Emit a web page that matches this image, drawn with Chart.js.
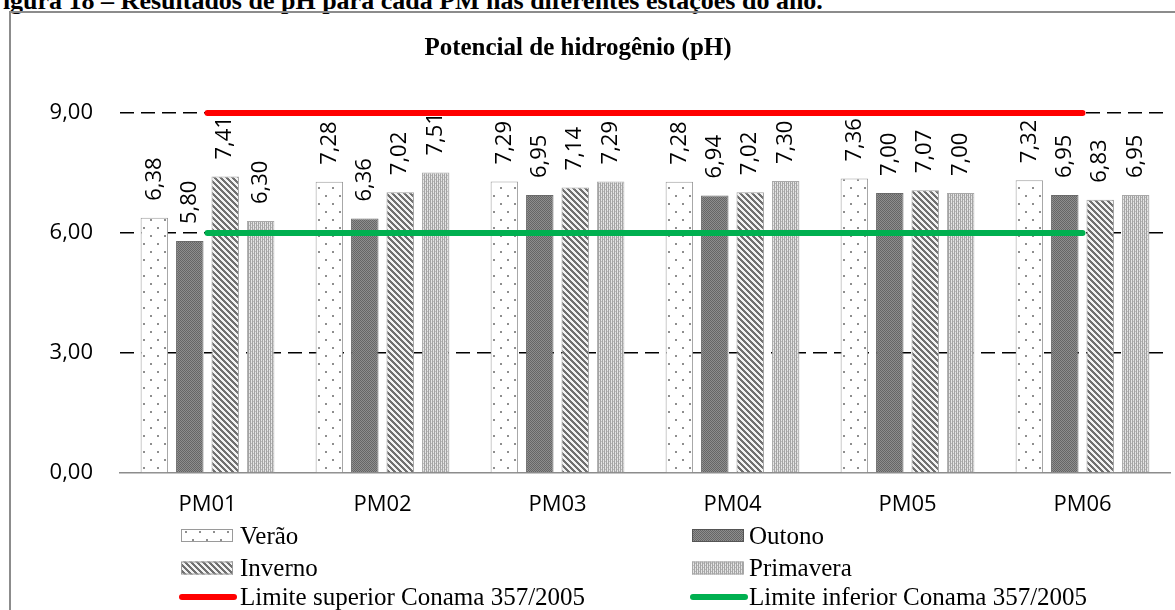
<!DOCTYPE html>
<html>
<head>
<meta charset="utf-8">
<script src="https://cdn.jsdelivr.net/npm/chart.js@4.4.0/dist/chart.umd.min.js"></script>
<style>
  html, body { margin: 0; padding: 0; background: #fff; overflow: hidden; }
  #caption {
    position: absolute; left: -13px; top: -12px;
    font: bold 26px "Liberation Serif", "Times New Roman", serif;
    line-height: 25px; white-space: nowrap; color: #000;
  }
  #frame {
    position: absolute; left: 9px; top: 11px; width: 1300px; height: 700px;
    border: 2px solid #8c8c8c; box-sizing: border-box;
  }
  #wrap { position: absolute; left: 0; top: 0; width: 1175px; height: 610px; }
</style>
</head>
<body>
<div id="caption">Figura 18 – Resultados de pH para cada PM nas diferentes estações do ano.</div>
<div id="frame"></div>
<div id="wrap"><canvas id="phChart" width="1175" height="610"></canvas></div>

<script>
// data
const pontos = ["PM01", "PM02", "PM03", "PM04", "PM05", "PM06"]
const verao = [6.38, 7.28, 7.29, 7.28, 7.36, 7.32]
const outono = [5.80, 6.36, 6.95, 6.94, 7.00, 6.95]
const inverno = [7.41, 7.02, 7.14, 7.02, 7.07, 6.83]
const primavera = [6.30, 7.51, 7.29, 7.30, 7.00, 6.95]
const limiteSuperior = [9, 9, 9, 9, 9, 9]
const limiteInferior = [6, 6, 6, 6, 6, 6]
const yTicks = [0, 3, 6, 9]

const titulo = "Potencial de hidrogênio (pH)"
const SANS = "'Open Sans', sans-serif"
const SERIF = "'Liberation Serif', 'Times New Roman', serif"

function fmt(v) {
  return v.toFixed(2).replace(".", ",")
}

// small tile -> repeating fill pattern
function makePattern(w, h, paint) {
  const c = document.createElement("canvas")
  c.width = w
  c.height = h
  const g = c.getContext("2d")
  paint(g, w, h)
  return g.createPattern(c, "repeat")
}

const patVerao = makePattern(14, 16, function (g, w, h) {
  g.fillStyle = "#ffffff"
  g.fillRect(0, 0, w, h)
  g.fillStyle = "#8e8e8e"
  g.fillRect(3, 3, 2, 2)
  g.fillRect(10, 11, 2, 2)
})

const patOutono = makePattern(2, 2, function (g) {
  g.fillStyle = "#8e8e8e"
  g.fillRect(0, 0, 2, 2)
  g.fillStyle = "#666666"
  g.fillRect(0, 0, 1, 1)
  g.fillRect(1, 1, 1, 1)
})

const patInverno = makePattern(6, 6, function (g) {
  for (let x = 0; x < 6; x++) {
    for (let y = 0; y < 6; y++) {
      g.fillStyle = ((x - y + 12) % 6) < 3 ? "#707070" : "#f2f2f2"
      g.fillRect(x, y, 1, 1)
    }
  }
})

const patPrimavera = makePattern(4, 4, function (g) {
  g.fillStyle = "#e4e4e4"
  g.fillRect(0, 0, 4, 4)
  g.fillStyle = "#a4a4a4"
  g.fillRect(0, 0, 1, 4)
  g.fillRect(2, 0, 1, 4)
  g.fillStyle = "#bcbcbc"
  g.fillRect(1, 1, 1, 1)
  g.fillRect(3, 3, 1, 1)
})

// value labels, rotated, above each bar
const barLabels = {
  id: "barLabels",
  afterDatasetsDraw(chart) {
    const ctx = chart.ctx
    ctx.save()
    ctx.font = "22px " + SANS
    ctx.fillStyle = "#000"
    ctx.textAlign = "left"
    ctx.textBaseline = "middle"
    chart.data.datasets.forEach(function (ds, i) {
      if (ds.type === "line") return
      chart.getDatasetMeta(i).data.forEach(function (bar, j) {
        ctx.save()
        ctx.translate(bar.x, bar.y - 17)
        ctx.rotate(-Math.PI / 2)
        ctx.fillText(fmt(ds.data[j]), 0, 0)
        ctx.restore()
      })
    })
    ctx.restore()
  },
}

// title + two column legend like the Excel original
const titleAndLegend = {
  id: "titleAndLegend",
  afterDraw(chart) {
    const ctx = chart.ctx
    ctx.save()
    ctx.fillStyle = "#000"
    ctx.font = "bold 25px " + SERIF
    ctx.textAlign = "center"
    ctx.textBaseline = "alphabetic"
    ctx.fillText(titulo, 578, 55)

    const swatchX = [181, 692]
    const textX = [240, 749]
    const rowY = [535.5, 568, 597]
    ctx.font = "25px " + SERIF
    ctx.textAlign = "left"
    chart.data.datasets.forEach(function (ds, i) {
      const col = i % 2
      const row = Math.floor(i / 2)
      const x = swatchX[col]
      const y = rowY[row]
      if (ds.type === "line") {
        ctx.strokeStyle = ds.borderColor
        ctx.lineWidth = 6
        ctx.lineCap = "round"
        ctx.beginPath()
        ctx.moveTo(x + 1, y)
        ctx.lineTo(x + 53, y)
        ctx.stroke()
      } else {
        ctx.fillStyle = ds.backgroundColor
        ctx.fillRect(x, y - 6.5, 52, 13)
        ctx.strokeStyle = ds.legendBorder
        ctx.lineWidth = 1
        ctx.strokeRect(x + 0.5, y - 6, 51, 12)
      }
      ctx.fillStyle = "#000"
      ctx.fillText(ds.label, textX[col], y + 8)
    })
    ctx.restore()
  },
}

const data = {
  labels: pontos,
  datasets: [
    { label: "Verão", data: verao, backgroundColor: patVerao, borderColor: "#9a9a9a", legendBorder: "#9a9a9a" },
    { label: "Outono", data: outono, backgroundColor: patOutono, borderColor: "#6a6a6a", legendBorder: "#555555" },
    { label: "Inverno", data: inverno, backgroundColor: patInverno, borderColor: "#a0a0a0", legendBorder: "#9a9a9a" },
    { label: "Primavera", data: primavera, backgroundColor: patPrimavera, borderColor: "#a8a8a8", legendBorder: "#a8a8a8" },
    {
      type: "line", label: "Limite superior Conama 357/2005", data: limiteSuperior,
      borderColor: "#ff0000", borderWidth: 6, pointRadius: 0, borderCapStyle: "round",
      fill: false, order: 0, clip: false,
    },
    {
      type: "line", label: "Limite inferior Conama 357/2005", data: limiteInferior,
      borderColor: "#00b050", borderWidth: 6, pointRadius: 0, borderCapStyle: "round",
      fill: false, order: 0, clip: false,
    },
  ],
}

data.datasets.forEach(function (ds) {
  if (ds.type !== "line") {
    ds.order = 1
    ds.borderWidth = 1
    ds.categoryPercentage = 0.81
    ds.barPercentage = 0.775
  }
})

const config = {
  type: "bar",
  data: data,
  plugins: [barLabels, titleAndLegend],
  options: {
    responsive: false,
    animation: false,
    layout: { padding: { top: 113, right: 5, left: 0, bottom: 0 } },
    plugins: {
      legend: { display: false },
      title: { display: false },
      tooltip: { enabled: false },
    },
    scales: {
      x: {
        grid: { display: false, drawTicks: false },
        border: { display: true, color: "#8c8c8c", width: 1.5 },
        ticks: { color: "#000", padding: 19, font: { family: SANS, size: 22 } },
        afterFit(scale) { scale.height = 137 },
      },
      y: {
        min: 0,
        max: 9,
        afterBuildTicks(scale) { scale.ticks = yTicks.map((v) => ({ value: v })) },
        grid: {
          drawTicks: false,
          lineWidth: 1.5,
          color: (c) => (c.tick && c.tick.value === 0 ? "rgba(0,0,0,0)" : "#000"),
        },
        border: { display: false, dash: [14, 7] },
        ticks: {
          color: "#000",
          padding: 27,
          font: { family: SANS, size: 22 },
          callback: (v) => fmt(v),
        },
        afterFit(scale) { scale.width = 120 },
      },
    },
  },
}

const myChart = new Chart(document.getElementById("phChart"), config)
</script>
</body>
</html>
